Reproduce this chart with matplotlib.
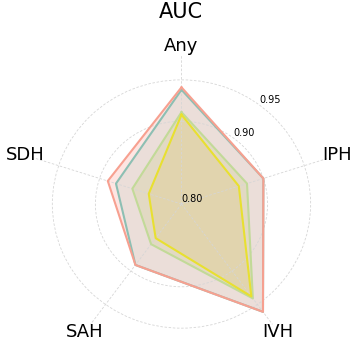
import numpy as np
import matplotlib.pyplot as plt

# radar chart of AUC per hemorrhage type
categories = ['Any', 'IPH', 'IVH', 'SAH', 'SDH']
r_ticks = [0.80, 0.90, 0.95]
r_tick_labels = ['0.80', '0.90', '0.95']

auc_teal = [0.938, 0.900, 0.961, 0.891, 0.880]
auc_salmon = [0.941, 0.900, 0.961, 0.891, 0.890]
auc_green = [0.911, 0.880, 0.941, 0.860, 0.860]
auc_yellow = [0.908, 0.870, 0.938, 0.851, 0.840]

series = [
    (auc_teal, '#8dbfb3', '#8dd3c7'),
    (auc_salmon, '#f7a090', '#fb8072'),
    (auc_green, '#c2da98', '#bec86e'),
    (auc_yellow, '#e8e030', '#e1c35a'),
]

angles = np.linspace(0, 2 * np.pi, len(categories), endpoint=False)
angles_closed = np.concatenate([angles, angles[:1]])

fig = plt.figure(figsize=(3.59, 3.59), dpi=100)
ax = fig.add_axes([0.0738, 0.0167, 0.8635, 0.830], projection='polar')
ax.set_aspect('auto')
ax.set_theta_offset(np.pi / 2)
ax.set_theta_direction(-1)

for vals, lc, fc in series:
    v = np.concatenate([vals, vals[:1]])
    ax.fill(angles_closed, v, color=fc, alpha=0.2, lw=0)
    ax.plot(angles_closed, v, color=lc, lw=1.5)

ax.set_ylim(0.8, 0.98)
ax.set_rgrids(r_ticks, labels=r_tick_labels, angle=37, fontsize=7)
ax.set_xticks(angles)
ax.set_xticklabels(categories, fontsize=13)
ax.tick_params(axis='x', pad=-4)
ax.grid(color='#d6d6d6', linestyle=(0, (3, 2)), linewidth=0.6)
ax.spines['polar'].set_visible(False)

fig.text(0.505, 1 - 12 / 359, 'AUC', ha='center', va='center', fontsize=15)

fig.savefig('out.png', dpi=100)
